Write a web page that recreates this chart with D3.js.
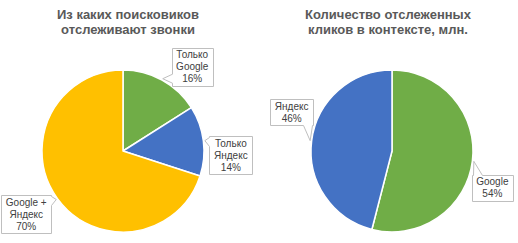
<!DOCTYPE html>
<html>
<head>
<meta charset="utf-8">
<script src="https://cdn.jsdelivr.net/npm/d3@7"></script>
<style>
  body { margin: 0; background: #fff; }
  svg { display: block; }
  .title { font-family: "Liberation Sans", Arial, sans-serif; font-size: 13px; font-weight: bold; fill: #595959; }
  .lbl { font-family: "Liberation Sans", Arial, sans-serif; font-size: 10px; fill: #404040; }
</style>
</head>
<body>
<script>
//chart data
var leftTitle = ["Из каких поисковиков", "отслеживают звонки"];
var leftCategories = ["Только Google", "Только Яндекс", "Google + Яндекс"];
var leftLabelLines = [["Только", "Google"], ["Только", "Яндекс"], ["Google +", "Яндекс"]];
var leftValues = [16, 14, 70];
var leftColors = ["#70AD47", "#4472C4", "#FFC000"];

var rightTitle = ["Количество отслеженных", "кликов в контексте, млн."];
var rightCategories = ["Google", "Яндекс"];
var rightLabelLines = [["Google"], ["Яндекс"]];
var rightValues = [54, 46];
var rightColors = ["#70AD47", "#4472C4"];

//layout (callout box centre offsets from the pointer tip)
var leftBoxOffsets = [[29.5, -12], [26, 14.5], [-30, 15]];
var rightBoxOffsets = [[18.5, 26.5], [-18.5, -28.5]];

var width = 518, height = 243;

var svg = d3.select("body")
    .append("svg")
    .attr("width", width)
    .attr("height", height);

drawPie({
    title: leftTitle, cats: leftCategories, lines: leftLabelLines,
    values: leftValues, colors: leftColors, offsets: leftBoxOffsets,
    titleX: 128, cx: 123, cy: 151, r: 81
});
drawPie({
    title: rightTitle, cats: rightCategories, lines: rightLabelLines,
    values: rightValues, colors: rightColors, offsets: rightBoxOffsets,
    titleX: 388, cx: 392, cy: 151, r: 81
});

function drawPie(cfg){
    var g = svg.append("g");

    //title
    g.append("text")
        .attr("class", "title")
        .attr("text-anchor", "middle")
        .selectAll("tspan")
        .data(cfg.title)
        .enter()
        .append("tspan")
        .attr("x", cfg.titleX)
        .attr("y", function(d, i){ return 18.5 + i * 15; })
        .text(function(d){ return d; });

    var data = cfg.values.map(function(v, i){
        return {cat: cfg.cats[i], value: v, lines: cfg.lines[i].concat([v + "%"]), color: cfg.colors[i], off: cfg.offsets[i]};
    });

    var pie = d3.pie()
        .sort(null)
        .value(function(d){ return d.value; });

    var arc = d3.arc()
        .innerRadius(0)
        .outerRadius(cfg.r);

    var arcs = pie(data);

    var pieG = g.append("g")
        .attr("transform", "translate(" + cfg.cx + "," + cfg.cy + ")");

    pieG.selectAll(".slice")
        .data(arcs)
        .enter()
        .append("path")
        .attr("class", "slice")
        .attr("d", arc)
        .style("fill", function(d){ return d.data.color; })
        .style("stroke", "#fff")
        .style("stroke-width", 1.5)
        .style("stroke-linejoin", "round");

    //callouts
    arcs.forEach(function(a){
        var mid = (a.startAngle + a.endAngle) / 2;
        var tx = cfg.cx + Math.sin(mid) * (cfg.r + 1.5),
            ty = cfg.cy - Math.cos(mid) * (cfg.r + 1.5);
        var bx = tx + a.data.off[0],
            by = ty + a.data.off[1];

        var lg = g.append("g");
        var txt = lg.append("text")
            .attr("class", "lbl")
            .attr("text-anchor", "middle");
        var n = a.data.lines.length;
        txt.selectAll("tspan")
            .data(a.data.lines)
            .enter()
            .append("tspan")
            .attr("x", bx)
            .attr("y", function(d, i){ return by + (i - (n - 1) / 2) * 12 + 3.5; })
            .text(function(d){ return d; });

        var maxW = 0;
        txt.selectAll("tspan").each(function(){
            maxW = Math.max(maxW, this.getComputedTextLength());
        });
        var w = Math.round(maxW + 9), h = n * 12 + 2;
        var x0 = Math.round(bx - w / 2) + 0.5, x1 = x0 + w,
            y0 = Math.round(by - h / 2) + 0.5, y1 = y0 + h;

        lg.insert("path", "text")
            .attr("d", calloutPath(x0, y0, x1, y1, tx, ty))
            .style("fill", "#fff")
            .style("stroke", "#BFBFBF")
            .style("stroke-width", 1);
    });
}

//rectangle with a wedge pointing to (tx, ty)
function calloutPath(x0, y0, x1, y1, tx, ty){
    var cx = (x0 + x1) / 2, cy = (y0 + y1) / 2;
    var ndx = (tx - cx) / ((x1 - x0) / 2),
        ndy = (ty - cy) / ((y1 - y0) / 2);
    var hw = 4.5;
    var clamp = function(v, lo, hi){ return Math.max(lo, Math.min(hi, v)); };
    var p = d3.path();
    p.moveTo(x0, y0);
    if (Math.abs(ndy) >= Math.abs(ndx) && ndy < 0){
        var m = clamp(tx, x0 + hw + 1, x1 - hw - 1);
        p.lineTo(m - hw, y0); p.lineTo(tx, ty); p.lineTo(m + hw, y0);
    }
    p.lineTo(x1, y0);
    if (Math.abs(ndx) > Math.abs(ndy) && ndx > 0){
        var m2 = clamp(ty, y0 + hw + 1, y1 - hw - 1);
        p.lineTo(x1, m2 - hw); p.lineTo(tx, ty); p.lineTo(x1, m2 + hw);
    }
    p.lineTo(x1, y1);
    if (Math.abs(ndy) >= Math.abs(ndx) && ndy > 0){
        var m3 = clamp(tx, x0 + hw + 1, x1 - hw - 1);
        p.lineTo(m3 + hw, y1); p.lineTo(tx, ty); p.lineTo(m3 - hw, y1);
    }
    p.lineTo(x0, y1);
    if (Math.abs(ndx) > Math.abs(ndy) && ndx < 0){
        var m4 = clamp(ty, y0 + hw + 1, y1 - hw - 1);
        p.lineTo(x0, m4 + hw); p.lineTo(tx, ty); p.lineTo(x0, m4 - hw);
    }
    p.closePath();
    return p.toString();
}
</script>
</body>
</html>
